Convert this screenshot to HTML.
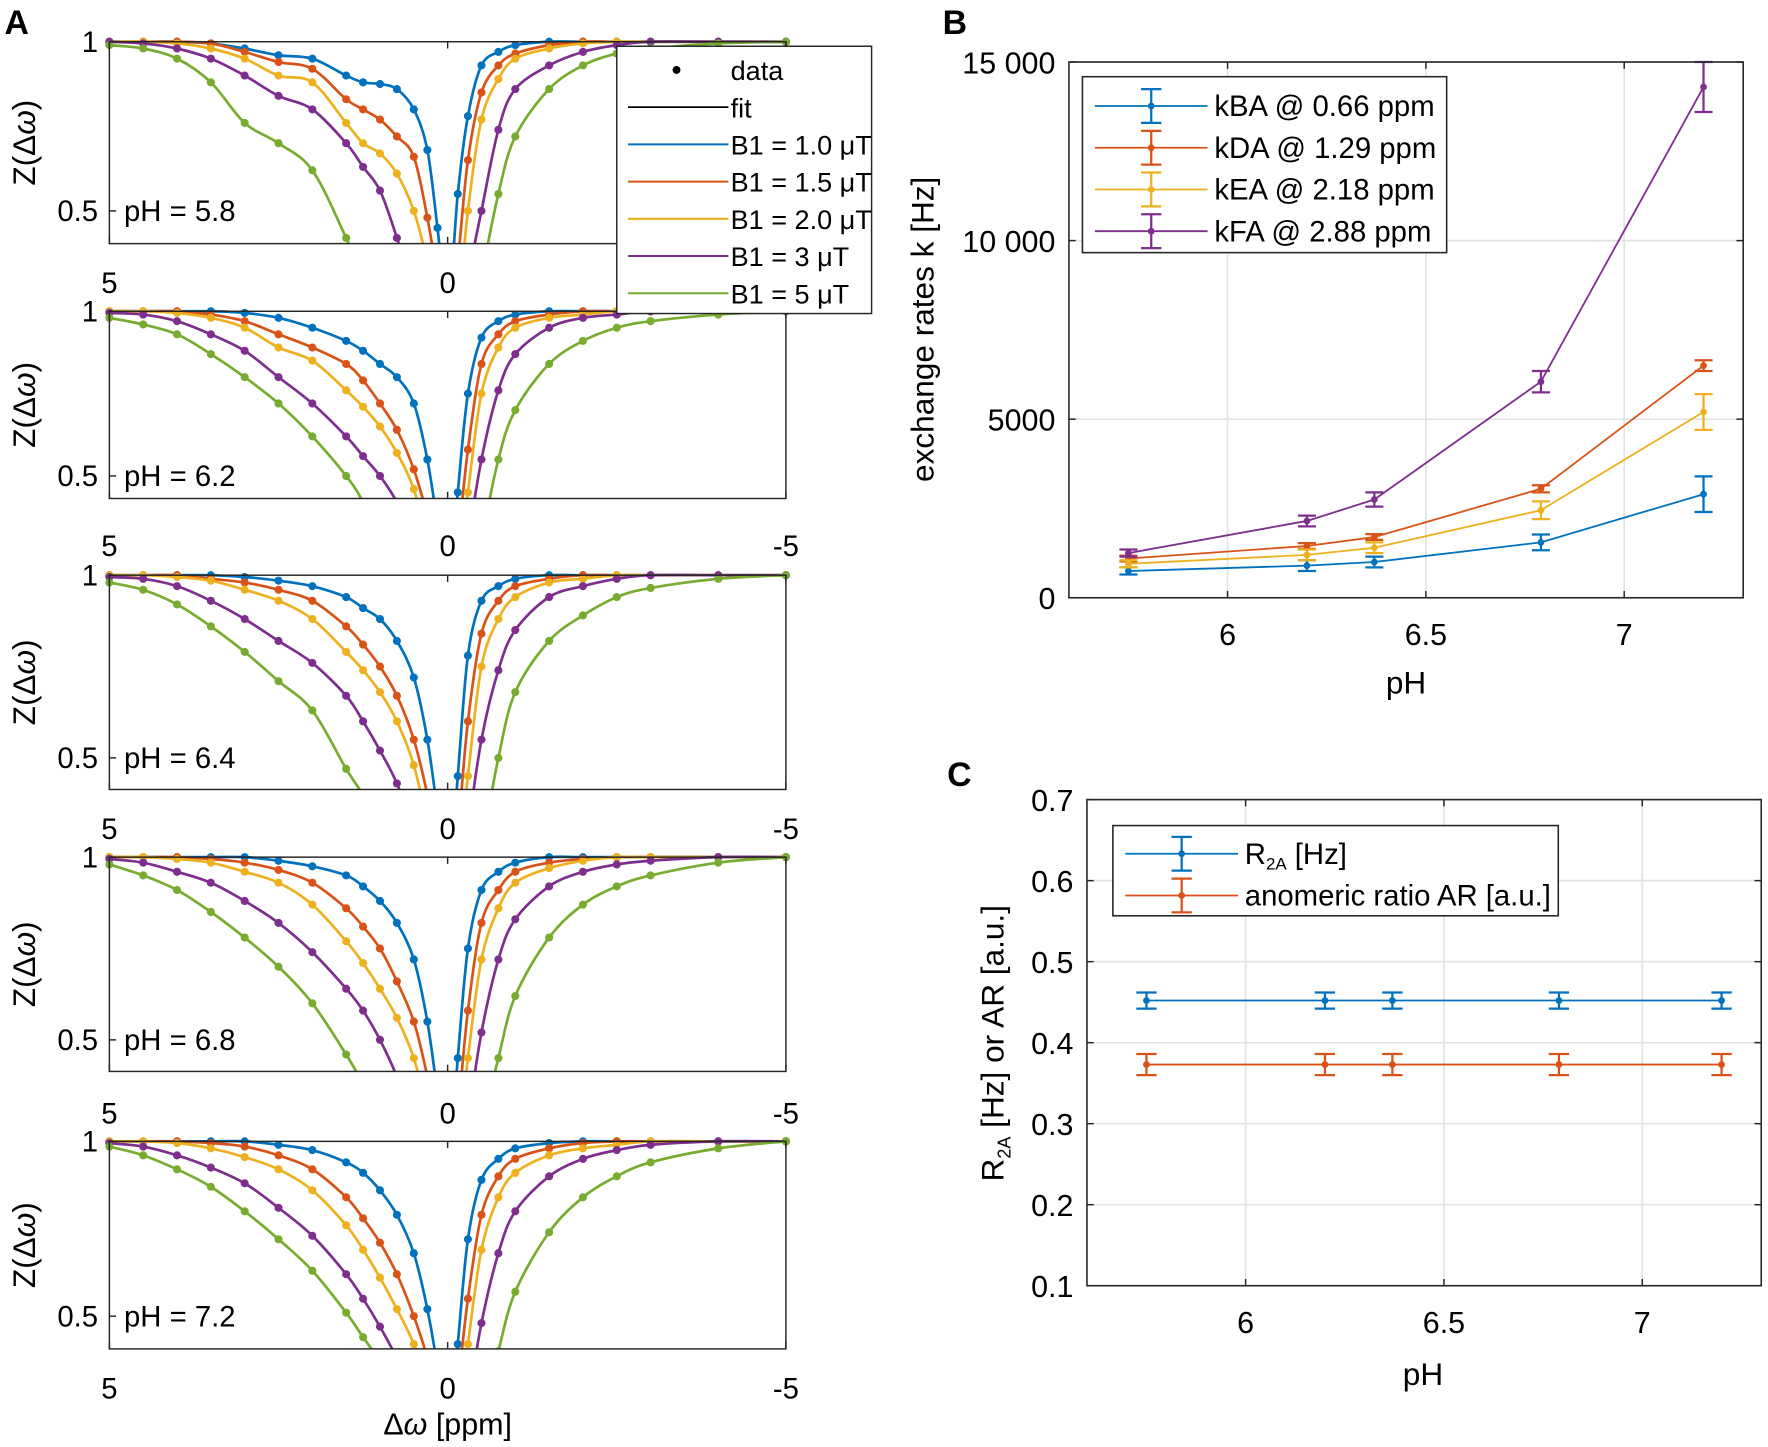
<!DOCTYPE html>
<html><head><meta charset="utf-8"><style>
html,body{margin:0;padding:0;background:#fff}
svg{display:block;font-family:"Liberation Sans",Arial,sans-serif}
</style></head><body>
<svg id="fig" width="1768" height="1447" viewBox="0 0 1568 1283" preserveAspectRatio="none" xmlns="http://www.w3.org/2000/svg">
<defs></defs>
<text x="4" y="30" font-size="30" font-weight="bold">A</text>
<text x="836" y="30" font-size="30" font-weight="bold">B</text>
<text x="840" y="697" font-size="30" font-weight="bold">C</text>
</svg>
<script>
// ---------- Panel A data ----------
const offsets = [5,4.5,4,3.5,3,2.5,2,1.5,1.25,1,0.75,0.5,0.3,0.15,0,-0.15,-0.3,-0.5,-0.75,-1,-1.5,-2,-2.5,-3,-4,-5];
const phLabels = ["5.8","6.2","6.4","6.8","7.2"];
const b1Labels = ["B1 = 1.0 \u03BCT","B1 = 1.5 \u03BCT","B1 = 2.0 \u03BCT","B1 = 3 \u03BCT","B1 = 5 \u03BCT"];
const z58 = [
 [1,1,1,0.995,0.98,0.96,0.95,0.90,0.88,0.875,0.86,0.80,0.68,0.45,0.2,0.55,0.78,0.93,0.97,0.99,1,1,1,1,1,1],
 [1,1,1,0.995,0.97,0.94,0.92,0.83,0.80,0.77,0.72,0.66,0.48,0.30,0.1,0.35,0.65,0.85,0.93,0.965,0.99,1,1,1,1,1],
 [1,1,0.995,0.98,0.95,0.90,0.88,0.76,0.70,0.67,0.61,0.50,0.35,0.2,0.05,0.2,0.50,0.77,0.89,0.95,0.98,0.995,1,1,1,1],
 [1,0.995,0.98,0.95,0.90,0.84,0.80,0.70,0.63,0.56,0.42,0.25,0.1,0.05,0,0.1,0.3,0.5,0.74,0.86,0.93,0.97,0.99,1,1,1],
 [0.99,0.98,0.95,0.88,0.76,0.70,0.62,0.42,0.3,0.2,0.1,0.05,0,0,0,0,0.05,0.3,0.55,0.72,0.86,0.93,0.965,0.98,0.995,1]];
const z62 = [
 [1,1,1,1,0.995,0.98,0.95,0.91,0.88,0.84,0.80,0.72,0.55,0.35,0.1,0.45,0.75,0.92,0.97,0.99,1,1,1,1,1,1],
 [1,1,1,0.99,0.97,0.93,0.89,0.84,0.79,0.72,0.64,0.52,0.38,0.25,0.1,0.3,0.58,0.84,0.93,0.97,0.99,1,1,1,1,1],
 [1,1,0.995,0.98,0.95,0.89,0.85,0.76,0.71,0.65,0.57,0.46,0.3,0.2,0.05,0.2,0.45,0.75,0.89,0.95,0.98,0.99,1,1,1,1],
 [0.995,0.99,0.97,0.93,0.88,0.80,0.72,0.62,0.56,0.50,0.42,0.3,0.15,0.05,0,0.1,0.3,0.55,0.76,0.87,0.95,0.98,0.99,1,1,1],
 [0.98,0.96,0.93,0.87,0.80,0.72,0.62,0.50,0.42,0.3,0.2,0.1,0.05,0,0,0,0.05,0.3,0.55,0.70,0.84,0.91,0.95,0.97,0.99,1]];
const z64 = [
 [1,1,1,1,0.995,0.985,0.97,0.94,0.91,0.88,0.82,0.72,0.55,0.35,0.1,0.45,0.78,0.93,0.97,0.99,1,1,1,1,1,1],
 [1,1,1,0.99,0.98,0.96,0.93,0.86,0.81,0.75,0.67,0.55,0.4,0.25,0.1,0.3,0.6,0.84,0.93,0.97,0.99,1,1,1,1,1],
 [1,1,0.995,0.985,0.96,0.93,0.88,0.79,0.74,0.68,0.60,0.48,0.32,0.2,0.05,0.2,0.45,0.75,0.88,0.94,0.98,0.99,1,1,1,1],
 [0.995,0.99,0.97,0.93,0.88,0.82,0.76,0.67,0.60,0.52,0.43,0.3,0.15,0.05,0,0.1,0.3,0.55,0.74,0.85,0.94,0.97,0.99,1,1,1],
 [0.98,0.96,0.92,0.86,0.79,0.71,0.63,0.47,0.40,0.33,0.25,0.15,0.08,0.03,0,0,0.05,0.25,0.5,0.68,0.82,0.89,0.94,0.965,0.99,1]];
const z68 = [
 [1,1,1,1,1,0.99,0.975,0.95,0.92,0.88,0.82,0.72,0.55,0.35,0.1,0.45,0.75,0.91,0.96,0.985,1,1,1,1,1,1],
 [1,1,1,0.995,0.985,0.965,0.93,0.86,0.81,0.75,0.66,0.55,0.4,0.25,0.1,0.3,0.58,0.82,0.91,0.96,0.985,0.995,1,1,1,1],
 [1,1,0.995,0.985,0.96,0.93,0.87,0.77,0.71,0.64,0.56,0.45,0.3,0.2,0.05,0.2,0.45,0.72,0.86,0.93,0.97,0.99,1,1,1,1],
 [0.995,0.985,0.96,0.93,0.88,0.82,0.74,0.64,0.58,0.50,0.40,0.28,0.15,0.05,0,0.1,0.28,0.52,0.72,0.83,0.92,0.96,0.98,0.99,1,1],
 [0.98,0.95,0.91,0.85,0.78,0.70,0.60,0.46,0.38,0.3,0.2,0.1,0.05,0,0,0,0.05,0.25,0.45,0.62,0.78,0.87,0.92,0.95,0.985,1]];
const z72 = [
 [1,1,1,1,1,0.99,0.975,0.94,0.91,0.86,0.79,0.68,0.52,0.35,0.1,0.42,0.72,0.89,0.95,0.98,0.995,1,1,1,1,1],
 [1,1,1,0.995,0.985,0.96,0.92,0.84,0.78,0.71,0.62,0.50,0.38,0.25,0.1,0.3,0.55,0.79,0.90,0.95,0.98,0.995,1,1,1,1],
 [1,1,0.995,0.98,0.955,0.92,0.86,0.76,0.69,0.61,0.52,0.42,0.3,0.2,0.05,0.2,0.42,0.69,0.84,0.91,0.96,0.98,0.99,1,1,1],
 [0.995,0.985,0.96,0.925,0.88,0.81,0.73,0.62,0.55,0.47,0.38,0.28,0.15,0.05,0,0.1,0.25,0.48,0.68,0.80,0.90,0.95,0.975,0.99,1,1],
 [0.985,0.96,0.92,0.87,0.80,0.72,0.63,0.51,0.44,0.37,0.28,0.18,0.1,0.05,0,0,0.05,0.2,0.4,0.57,0.74,0.84,0.90,0.94,0.98,1]];
const zPanels = [z58,z62,z64,z68,z72];

// ---------- Panel B data ----------
const phValues = [5.75,6.2,6.37,6.79,7.2];
const kNames = ["kBA @ 0.66 ppm","kDA @ 1.29 ppm","kEA @ 2.18 ppm","kFA @ 2.88 ppm"];
const kBA = [750,900,1000,1550,2900];
const kDA = [1100,1450,1700,3050,6500];
const kEA = [950,1200,1400,2450,5200];
const kFA = [1250,2150,2750,6050,14300];
const kBAerr = [100,150,150,220,500];
const kDAerr = [80,80,80,100,150];
const kEAerr = [100,150,150,250,500];
const kFAerr = [100,150,200,300,700];
const bYTicks = [0,5000,10000,15000];
const bYTickLabels = ["0","5000","10 000","15 000"];
const xTicks = [6,6.5,7];
const xTickLabels = ["6","6.5","7"];

// ---------- Panel C data ----------
const r2a = [0.452,0.452,0.452,0.452,0.452];
const ar = [0.373,0.373,0.373,0.373,0.373];
const r2aErr = [0.01,0.01,0.01,0.01,0.01];
const arErr = [0.013,0.013,0.013,0.013,0.013];
const cYTicks = [0.1,0.2,0.3,0.4,0.5,0.6,0.7];
const cYTickLabels = ["0.1","0.2","0.3","0.4","0.5","0.6","0.7"];

const colors = ["#0072BD","#D95319","#EDB120","#7E2F8E","#77AC30"];
const NS = "http://www.w3.org/2000/svg";
const svg = document.getElementById("fig");
function mk(tag, attrs, parent){
  const e = document.createElementNS(NS, tag);
  for (const k in attrs) e.setAttribute(k, attrs[k]);
  (parent||svg).appendChild(e);
  return e;
}
function txt(x,y,s,size,anchor,parent){
  const t = mk("text",{x:x,y:y,"font-size":size,"text-anchor":anchor||"middle"},parent);
  t.textContent = s;
  return t;
}
function smoothPath(pts){
  let d = "M"+pts[0][0]+","+pts[0][1];
  for (let i=0;i<pts.length-1;i++){
    const p0=pts[Math.max(0,i-1)], p1=pts[i], p2=pts[i+1], p3=pts[Math.min(pts.length-1,i+2)];
    const c1x=p1[0]+(p2[0]-p0[0])/6, c1y=p1[1]+(p2[1]-p0[1])/6;
    const c2x=p2[0]-(p3[0]-p1[0])/6, c2y=p2[1]-(p3[1]-p1[1])/6;
    d += " C"+c1x.toFixed(1)+","+c1y.toFixed(1)+" "+c2x.toFixed(1)+","+c2y.toFixed(1)+" "+p2[0].toFixed(1)+","+p2[1].toFixed(1);
  }
  return d;
}
const defs = svg.querySelector("defs");

// ---------- Panel A ----------
const aLeft = 97, aRight = 697;
const aTop = [37,276,510,760,1012];
const aBottom = [216,442,700,950,1196];
const aY05 = [187,422,672,922,1167];
const aXLabY = [260,493,744,996,1240];
for (let p=0;p<5;p++){
  const g = mk("g",{});
  
  
  const top=aTop[p], bot=aBottom[p], y05=aY05[p];
  const perUnit = (y05-top)/0.5;
  const xS = v => aLeft + (5-v)*(aRight-aLeft)/10;
  const yS = v => top + (1-v)*perUnit;
  const cp = mk("clipPath",{id:"clipA"+p},defs);
  mk("rect",{x:aLeft-4,y:top-4,width:aRight-aLeft+8,height:bot-top+4},cp);
  mk("rect",{x:aLeft,y:top,width:aRight-aLeft,height:bot-top,fill:"#fff",stroke:"none"},g);
  const plot = mk("g",{"clip-path":"url(#clipA"+p+")"},g);
  for (let c=0;c<5;c++){
    const vals = zPanels[p][c];
    const pts = offsets.map((o,i)=>[xS(o), yS(vals[i])]);
    const path = mk("path",{d:smoothPath(pts),fill:"none",stroke:colors[c],"stroke-width":2.4},plot);
    
    
    pts.forEach(pt=>{
      const dot = mk("circle",{cx:pt[0],cy:pt[1],r:3.6,fill:colors[c]},plot);
      
      
    });
  }
  mk("rect",{x:aLeft,y:top,width:aRight-aLeft,height:bot-top,fill:"none",stroke:"#262626","stroke-width":1.3},g);
  [5,0,-5].forEach(v=>{
    mk("line",{x1:xS(v),x2:xS(v),y1:bot,y2:bot-6,stroke:"#262626","stroke-width":1.3},g);
    mk("line",{x1:xS(v),x2:xS(v),y1:top,y2:top+6,stroke:"#262626","stroke-width":1.3},g);
  });
  [0.5,1].forEach(v=>mk("line",{x1:aLeft,x2:aLeft+6,y1:yS(v),y2:yS(v),stroke:"#262626","stroke-width":1.3},g));
  const xlbl = p===0 ? ["5","0"] : ["5","0","-5"];
  const xval = [5,0,-5];
  xlbl.forEach((s,i)=>{ const t=txt(xS(xval[i]),aXLabY[p],s,26,"middle",g);
      });
  const t1=txt(aLeft-10,yS(1)+9,"1",26,"end",g);
   
  const t2=txt(aLeft-10,yS(0.5)+9,"0.5",26,"end",g);
   
  const ph=txt(aLeft+13,yS(0.5)+9,"pH = "+phLabels[p],26,"start",g);
   
  const yl = mk("text",{"font-size":28,"text-anchor":"middle",transform:"translate(31,"+((top+bot)/2)+") rotate(-90)"},g);
   
  const ya = document.createElementNS(NS,"tspan"); ya.textContent="Z(\u0394"; yl.appendChild(ya);
  const yb = document.createElementNS(NS,"tspan"); yb.setAttribute("font-style","italic"); yb.textContent="\u03C9"; yl.appendChild(yb);
  const yc = document.createElementNS(NS,"tspan"); yc.textContent=")"; yl.appendChild(yc);
}
{
  const t = mk("text",{x:397,y:1272,"font-size":27,"text-anchor":"middle"});
   
  const a = document.createElementNS(NS,"tspan"); a.textContent="\u0394"; t.appendChild(a);
  const b = document.createElementNS(NS,"tspan"); b.setAttribute("font-style","italic"); b.textContent="\u03C9"; t.appendChild(b);
  const c = document.createElementNS(NS,"tspan"); c.textContent=" [ppm]"; t.appendChild(c);
}

// Panel A legend
{
  const g = mk("g",{});
  
  
  mk("rect",{x:547,y:41,width:226,height:237,fill:"#fff",stroke:"#262626","stroke-width":1.3},g);
  mk("circle",{cx:600,cy:62,r:3.5,fill:"#000"},g);
  txt(648,71,"data",24,"start",g);
  mk("line",{x1:557,x2:646,y1:95,y2:95,stroke:"#000","stroke-width":1.6},g);
  txt(648,104,"fit",24,"start",g);
  for (let c=0;c<5;c++){
    const y=128+c*33;
    const ln = mk("line",{x1:557,x2:646,y1:y,y2:y,stroke:colors[c],"stroke-width":1.8},g);
    
    
    const t = txt(648,y+9,b1Labels[c],24,"start",g);
    
    
  }
}

function errAxes(cfg){
  const g = mk("g",{});
  
  
  const xS = v => cfg.left + (v-cfg.xmin)/(cfg.xmax-cfg.xmin)*(cfg.right-cfg.left);
  const yS = v => cfg.bottom - (v-cfg.ymin)/(cfg.ymax-cfg.ymin)*(cfg.bottom-cfg.top);
  mk("rect",{x:cfg.left,y:cfg.top,width:cfg.right-cfg.left,height:cfg.bottom-cfg.top,fill:"#fff"},g);
  xTicks.forEach(v=>mk("line",{x1:xS(v),x2:xS(v),y1:cfg.top,y2:cfg.bottom,stroke:"#e3e3e3","stroke-width":1.5},g));
  cfg.yTicks.forEach(v=>mk("line",{x1:cfg.left,x2:cfg.right,y1:yS(v),y2:yS(v),stroke:"#e3e3e3","stroke-width":1.5},g));
  xTicks.forEach((v,i)=>{
    mk("line",{x1:xS(v),x2:xS(v),y1:cfg.bottom,y2:cfg.bottom-6,stroke:"#262626","stroke-width":1.3},g);
    mk("line",{x1:xS(v),x2:xS(v),y1:cfg.top,y2:cfg.top+6,stroke:"#262626","stroke-width":1.3},g);
    const t=txt(xS(v),cfg.bottom+42,xTickLabels[i],27,"middle",g);
     
  });
  cfg.yTicks.forEach((v,i)=>{
    mk("line",{x1:cfg.left,x2:cfg.left+6,y1:yS(v),y2:yS(v),stroke:"#262626","stroke-width":1.3},g);
    mk("line",{x1:cfg.right,x2:cfg.right-6,y1:yS(v),y2:yS(v),stroke:"#262626","stroke-width":1.3},g);
    const t=txt(cfg.left-12,yS(v)+10,cfg.yLabels[i],27,"end",g);
     
  });
  cfg.series.forEach((s,si)=>{
    const sg = mk("g",{},g);
    
    
    const pts = phValues.map((x,i)=>xS(x).toFixed(1)+","+yS(s.vals[i]).toFixed(1)).join(" ");
    mk("polyline",{points:pts,fill:"none",stroke:s.color,"stroke-width":1.6},sg);
    phValues.forEach((x,i)=>{
      const cx=xS(x), y1=yS(s.vals[i]-s.err[i]), y2=yS(s.vals[i]+s.err[i]);
      const eb = mk("path",{d:"M"+cx+","+y1+"V"+y2+"M"+(cx-cfg.cap)+","+y1+"H"+(cx+cfg.cap)+"M"+(cx-cfg.cap)+","+y2+"H"+(cx+cfg.cap),stroke:s.color,"stroke-width":2,fill:"none"},sg);
      
      
      const d = mk("circle",{cx:cx,cy:yS(s.vals[i]),r:3,fill:s.color},sg);
      
      
    });
  });
  mk("rect",{x:cfg.left,y:cfg.top,width:cfg.right-cfg.left,height:cfg.bottom-cfg.top,fill:"none",stroke:"#262626","stroke-width":1.4},g);
  const L = cfg.legend;
  const lg = mk("g",{},g);
  
  
  mk("rect",{x:L.x,y:L.y,width:L.w,height:L.h,fill:"#fff",stroke:"#262626","stroke-width":1.4},lg);
  cfg.series.forEach((s,i)=>{
    const y = L.y0 + i*L.dy;
    const lx1=L.x+11, lx2=L.x+L.lineW+11, cx=(lx1+lx2)/2;
    const e = mk("g",{},lg);
    
    
    mk("line",{x1:lx1,x2:lx2,y1:y,y2:y,stroke:s.color,"stroke-width":1.6},e);
    mk("path",{d:"M"+cx+","+(y-15)+"V"+(y+15)+"M"+(cx-9)+","+(y-15)+"H"+(cx+9)+"M"+(cx-9)+","+(y+15)+"H"+(cx+9),stroke:s.color,"stroke-width":2,fill:"none"},e);
    mk("circle",{cx:cx,cy:y,r:3,fill:s.color},e);
    if (s.html){
      const t = mk("text",{x:lx2+6,y:y+9,"font-size":26},e);
      const a = document.createElementNS(NS,"tspan"); a.textContent="R"; t.appendChild(a);
      const b = document.createElementNS(NS,"tspan"); b.setAttribute("font-size","15"); b.setAttribute("dy","5"); b.textContent="2A"; t.appendChild(b);
      const c = document.createElementNS(NS,"tspan"); c.setAttribute("dy","-5"); c.textContent=" [Hz]"; t.appendChild(c);
    } else {
      txt(lx2+6,y+9,s.label,26,"start",e);
    }
  });
  return g;
}

errAxes({name:"exchange-rate-chart",left:948,right:1546,top:55,bottom:530,xmin:5.6,xmax:7.3,ymin:0,ymax:15000,
  yTicks:bYTicks,yLabels:bYTickLabels,cap:8,
  series:[
    {id:"kba",vals:kBA,err:kBAerr,color:colors[0],label:kNames[0]},
    {id:"kda",vals:kDA,err:kDAerr,color:colors[1],label:kNames[1]},
    {id:"kea",vals:kEA,err:kEAerr,color:colors[2],label:kNames[2]},
    {id:"kfa",vals:kFA,err:kFAerr,color:colors[3],label:kNames[3]}],
  legend:{x:960,y:68,w:323,h:156,y0:94,dy:37,lineW:100}});
const bxl = txt(1247,615,"pH",28,"middle");
 
const byl = txt(0,0,"exchange rates k [Hz]",28,"middle");
byl.setAttribute("transform","translate(828,292) rotate(-90)");
 

errAxes({name:"relaxation-ratio-chart",left:964,right:1562,top:709,bottom:1140,xmin:5.6,xmax:7.3,ymin:0.1,ymax:0.7,
  yTicks:cYTicks,yLabels:cYTickLabels,cap:9,
  series:[
    {id:"r2a",vals:r2a,err:r2aErr,color:colors[0],html:true},
    {id:"anomeric-ratio",vals:ar,err:arErr,color:colors[1],label:"anomeric ratio AR [a.u.]"}],
  legend:{x:987,y:732,w:395,h:80,y0:757,dy:37,lineW:100}});
const cxl = txt(1262,1228,"pH",28,"middle");
 
{
  const t = mk("text",{"font-size":28,"text-anchor":"middle",transform:"translate(890,925) rotate(-90)"});
  
  
  const a = document.createElementNS(NS,"tspan"); a.textContent="R"; t.appendChild(a);
  const b = document.createElementNS(NS,"tspan"); b.setAttribute("font-size","16"); b.setAttribute("dy","6"); b.textContent="2A"; t.appendChild(b);
  const c = document.createElementNS(NS,"tspan"); c.setAttribute("dy","-6"); c.textContent=" [Hz] or AR [a.u.]"; t.appendChild(c);
}
</script>
</body></html>
